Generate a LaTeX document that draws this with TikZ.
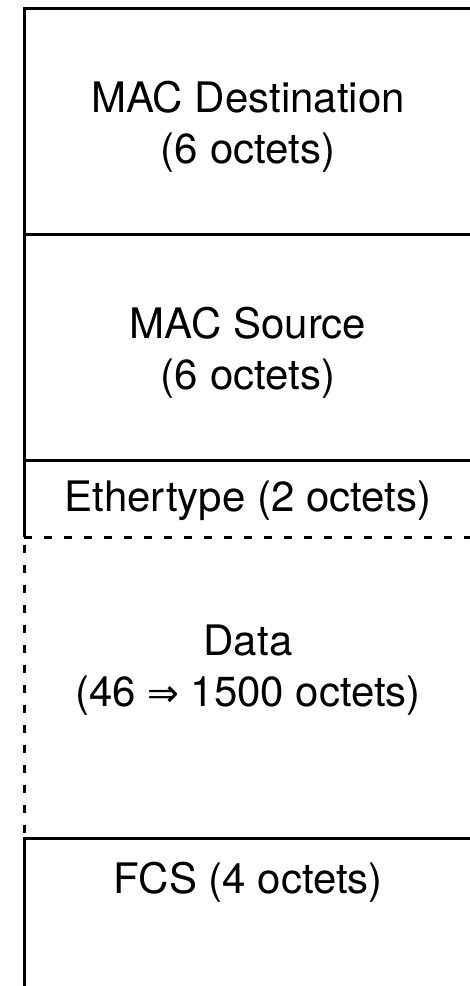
\documentclass[tikz,border=0pt]{standalone}
\usepackage{fontspec}
\setmainfont{TeX Gyre Heros}
\newfontfamily\arrowfont{DejaVu Sans}
\begin{document}
\begin{tikzpicture}[x=1pt,y=-1pt,
  frame/.style={line width=3pt,black},
  gapline/.style={frame,dash pattern=on 8pt off 12pt},
  field/.style={font=\fontsize{42}{51}\selectfont,anchor=base,inner sep=0pt,align=center}]
\useasboundingbox (0,0) rectangle (470,986);
% field boundaries
\coordinate (tl) at (24,8);
\coordinate (tr) at (472,8);
\coordinate (s1l) at (24,234);
\coordinate (s1r) at (472,234);
\coordinate (s2l) at (24,460);
\coordinate (s2r) at (472,460);
\coordinate (s3l) at (24,537);
\coordinate (s3r) at (472,537);
\coordinate (s4l) at (24,838);
\coordinate (s4r) at (472,838);
\coordinate (bl) at (24,990);
% solid frame of the header fields
\draw[frame] (tr) -- (tl) -- (s3l);
\draw[frame] (s1l) -- (s1r);
\draw[frame] (s2l) -- (s2r);
% variable-length payload, dashed
\draw[gapline] (s3l) -- (s3r);
\draw[gapline,dash phase=12pt] (s3l) -- (s4l);
% trailer
\draw[frame] (s4r) -- (s4l) -- (bl);
% field labels
\node[field] (dst) at (248,112) {MAC Destination};
\node[field] (dstn) at (248,163) {(6 octets)};
\node[field] (src) at (248,338) {MAC Source};
\node[field] (srcn) at (248,389) {(6 octets)};
\node[field] (eth) at (248,511) {Ethertype (2 octets)};
\node[field] (data) at (248,655) {Data};
\node[field] (datan) at (248,706) {(46 {\arrowfont\fontsize{38}{51}\selectfont ⇒} 1500 octets)};
\node[field] (fcs) at (248,893) {FCS (4 octets)};
\end{tikzpicture}
\end{document}
